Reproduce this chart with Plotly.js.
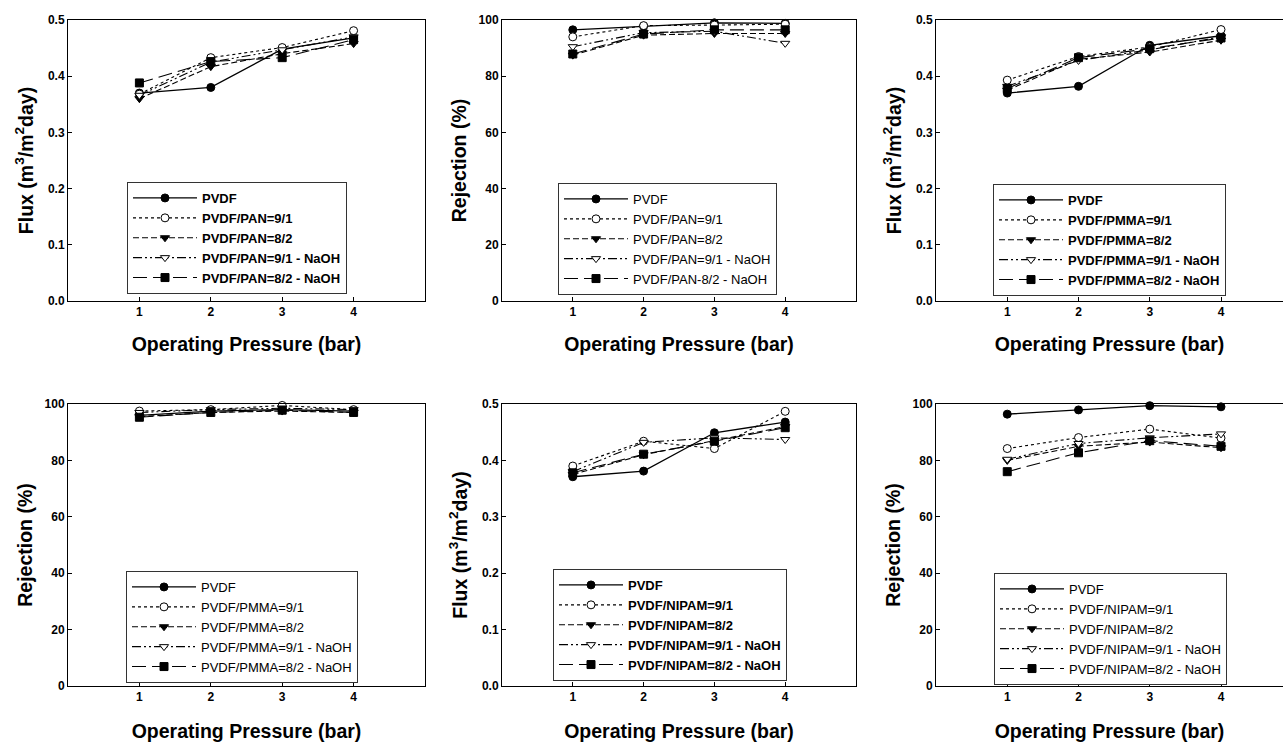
<!DOCTYPE html>
<html>
<head>
<meta charset="utf-8">
<script src="https://cdn.plot.ly/plotly-3.0.1.min.js"></script>
<style>html,body{margin:0;padding:0;background:#fff;}#chart{width:1283px;height:742px;}</style>
</head>
<body>
<div id="chart"></div>
<script>
// ---------- DATA ----------
const pressure = [1, 2, 3, 4];

const labelsPAN = ['PVDF', 'PVDF/PAN=9/1', 'PVDF/PAN=8/2', 'PVDF/PAN=9/1 - NaOH', 'PVDF/PAN=8/2 - NaOH'];
const labelsPANRej = ['PVDF', 'PVDF/PAN=9/1', 'PVDF/PAN=8/2', 'PVDF/PAN=9/1 - NaOH', 'PVDF/PAN-8/2 - NaOH'];
const labelsPMMA = ['PVDF', 'PVDF/PMMA=9/1', 'PVDF/PMMA=8/2', 'PVDF/PMMA=9/1 - NaOH', 'PVDF/PMMA=8/2 - NaOH'];
const labelsNIPAM = ['PVDF', 'PVDF/NIPAM=9/1', 'PVDF/NIPAM=8/2', 'PVDF/NIPAM=9/1 - NaOH', 'PVDF/NIPAM=8/2 - NaOH'];

// rows: PVDF, 9/1, 8/2, 9/1-NaOH, 8/2-NaOH
const fluxPAN = [
  [0.370, 0.380, 0.448, 0.468],
  [0.368, 0.433, 0.451, 0.481],
  [0.360, 0.417, 0.440, 0.458],
  [0.366, 0.425, 0.447, 0.470],
  [0.388, 0.426, 0.433, 0.465]
];
const rejPAN = [
  [96.5, 97.8, 99.0, 98.8],
  [94.0, 98.0, 98.2, 98.5],
  [87.5, 94.6, 95.2, 95.2],
  [90.5, 95.5, 96.0, 91.7],
  [87.9, 95.0, 96.5, 96.5]
];
const fluxPMMA = [
  [0.370, 0.382, 0.455, 0.472],
  [0.393, 0.435, 0.452, 0.483],
  [0.375, 0.430, 0.443, 0.464],
  [0.382, 0.428, 0.447, 0.470],
  [0.378, 0.433, 0.449, 0.468]
];
const rejPMMA = [
  [96.0, 97.5, 98.0, 97.5],
  [97.5, 98.0, 99.5, 98.0],
  [95.5, 97.0, 97.5, 97.0],
  [97.0, 98.0, 98.5, 98.0],
  [95.3, 97.0, 97.8, 97.0]
];
const fluxNIPAM = [
  [0.371, 0.381, 0.449, 0.468],
  [0.390, 0.434, 0.421, 0.487],
  [0.375, 0.410, 0.435, 0.460],
  [0.380, 0.432, 0.440, 0.437],
  [0.378, 0.411, 0.434, 0.458]
];
const rejNIPAM = [
  [96.4, 97.9, 99.4, 99.0],
  [84.2, 88.1, 91.1, 87.9],
  [80.0, 85.0, 86.5, 84.5],
  [80.4, 86.0, 88.0, 89.4],
  [76.0, 82.7, 87.0, 85.0]
];

const xTicks = [1, 2, 3, 4];
const fluxTicks = [0.0, 0.1, 0.2, 0.3, 0.4, 0.5];
const rejTicks = [0, 20, 40, 60, 80, 100];

// ---------- STYLES ----------
const FONT = 'Liberation Sans, Arial, Helvetica, sans-serif';
const seriesStyle = [
  {dash: 'solid', symbol: 'circle', fill: 'black'},
  {dash: 'dot', symbol: 'circle', fill: 'white'},
  {dash: '6px,3px', symbol: 'triangle-down', fill: 'black'},
  {dash: '9px,3px,2px,3px,2px,3px', symbol: 'triangle-down', fill: 'white'},
  {dash: '14px,6px', symbol: 'square', fill: 'black'}
];

const panels = [
  {data: fluxPAN, labels: labelsPAN, kind: 'flux', bold: true},
  {data: rejPAN, labels: labelsPANRej, kind: 'rej', bold: false},
  {data: fluxPMMA, labels: labelsPMMA, kind: 'flux', bold: true},
  {data: rejPMMA, labels: labelsPMMA, kind: 'rej', bold: false},
  {data: fluxNIPAM, labels: labelsNIPAM, kind: 'flux', bold: true},
  {data: rejNIPAM, labels: labelsNIPAM, kind: 'rej', bold: false}
];

const W = 1283, H = 742;
const colDom = [[68 / W, 425 / W], [502 / W, 856 / W], [936 / W, 1]];
const colRange = [[0, 5], [0, 5], [0, 4.87]];
const rowDom = [[1 - 301 / H, 1 - 20 / H], [1 - 686 / H, 1 - 404 / H]];
const rowStandoff = [18, 21];
const legendPos = [
  [127, 182], [558, 183], [993, 184],
  [126, 571], [553, 569], [994, 573]
];

const traces = [];
const layout = {
  width: W, height: H,
  margin: {l: 0, r: 0, t: 0, b: 0},
  paper_bgcolor: 'white', plot_bgcolor: 'white',
  font: {family: FONT, color: 'black'},
  showlegend: true
};

panels.forEach((p, i) => {
  const n = i + 1;
  const row = Math.floor(i / 3), col = i % 3;
  const xa = 'x' + (n === 1 ? '' : n), ya = 'y' + (n === 1 ? '' : n);
  const legName = 'legend' + (n === 1 ? '' : n);
  p.data.forEach((vals, s) => {
    const st = seriesStyle[s];
    traces.push({
      type: 'scatter', mode: 'lines+markers',
      x: pressure, y: vals, name: p.labels[s],
      xaxis: xa, yaxis: ya, legend: legName,
      line: {color: 'black', width: s === 0 ? 1.3 : 1.1, dash: st.dash},
      marker: {symbol: st.symbol, size: 8, color: st.fill, line: {color: 'black', width: 1}},
      cliponaxis: false
    });
  });
  const isFlux = p.kind === 'flux';
  layout['xaxis' + (n === 1 ? '' : n)] = {
    domain: colDom[col], anchor: ya, range: colRange[col],
    tickmode: 'array', tickvals: xTicks, ticktext: xTicks.map(String),
    ticks: 'inside', ticklen: 4, tickcolor: 'black',
    showline: true, linecolor: 'black', linewidth: 1, mirror: true,
    showgrid: false, zeroline: false,
    tickfont: {family: FONT, size: 12, weight: 'bold', color: 'black'},
    title: {text: 'Operating Pressure (bar)', standoff: rowStandoff[row],
      font: {family: FONT, size: 19.5, weight: 'bold', color: 'black'}}
  };
  layout['yaxis' + (n === 1 ? '' : n)] = {
    domain: rowDom[row], anchor: xa,
    range: isFlux ? [0, 0.5] : [0, 100],
    tickmode: 'array', tickvals: isFlux ? fluxTicks : rejTicks,
    ticktext: isFlux ? fluxTicks.map(v => v.toFixed(1)) : rejTicks.map(String),
    ticks: 'inside', ticklen: 4, tickcolor: 'black',
    showline: true, linecolor: 'black', linewidth: 1, mirror: col < 2,
    showgrid: false, zeroline: false,
    tickfont: {family: FONT, size: 12, weight: 'bold', color: 'black'},
    title: {text: isFlux ? 'Flux (m<sup>3</sup>/m<sup>2</sup>day)' : 'Rejection (%)', standoff: isFlux ? 9 : 6,
      font: {family: FONT, size: 19.5, weight: 'bold', color: 'black'}}
  };
  layout[legName] = {
    x: legendPos[i][0] / W, y: 1 - legendPos[i][1] / H,
    xanchor: 'left', yanchor: 'top', xref: 'paper', yref: 'paper',
    bgcolor: 'white', bordercolor: '#333', borderwidth: 1,
    itemwidth: 64, tracegroupgap: 0, traceorder: 'normal',
    font: {family: FONT, size: 13, weight: p.bold ? 'bold' : 'normal', color: 'black'}
  };
});

Plotly.newPlot('chart', traces, layout, {displayModeBar: false, staticPlot: true});
</script>
</body>
</html>
